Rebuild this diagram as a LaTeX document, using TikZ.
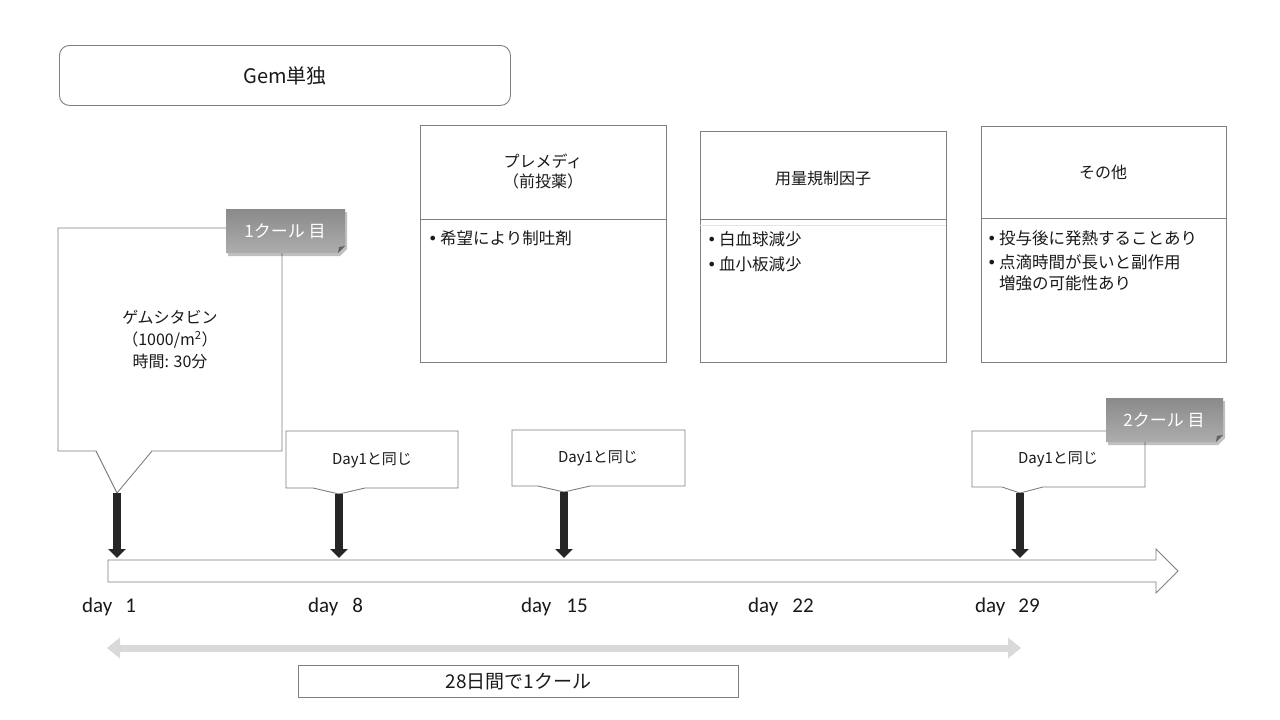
\documentclass[tikz,border=0pt]{standalone}
\usepackage{fontspec}
\setmainfont{Carlito}
\newfontfamily\jp{Noto Sans CJK JP}
\newfontfamily\dv{DejaVu Sans}
\usetikzlibrary{arrows.meta,shadows}
\definecolor{linec}{HTML}{7F7F7F}
\definecolor{txt}{HTML}{1A1A1A}
\definecolor{darkarr}{HTML}{262626}
\definecolor{lightarr}{HTML}{D9D9D9}
\definecolor{tagtop}{HTML}{ADADAD}
\definecolor{tagbot}{HTML}{8A8A8A}
\newcommand\bulx{\makebox[12pt][l]{{\dv\fontsize{16}{16}\selectfont\char"2022}}}
\begin{document}
\begin{tikzpicture}[x=1pt,y=-1pt,
  box/.style={draw=linec, line width=0.9pt, fill=white},
  jptext/.style={font=\jp\fontsize{16}{20}\selectfont, text=txt, inner sep=0pt},
  bultext/.style={font=\jp\fontsize{16.5}{21}\selectfont, text=txt, inner sep=0pt, anchor=west, align=left},
  daylab/.style={font=\fontsize{21}{24}\selectfont, text=txt, inner sep=0pt, anchor=west},
  darr/.style={draw=darkarr, line width=8pt, -{Triangle[width=17pt,length=9pt]}},
  tagshape/.style={top color=tagbot, bottom color=tagtop, draw=none,
     drop shadow={shadow xshift=2pt, shadow yshift=-3pt, fill=black, opacity=0.25}},
  tagtext/.style={font=\jp\fontsize{17}{20}\selectfont, text=white, inner sep=0pt}
]
\useasboundingbox (0,0) rectangle (1280,720);
\fill[white] (0,0) rectangle (1280,720);

% title
\node[box, rounded corners=10pt, minimum width=451pt, minimum height=60pt, anchor=north west,
      font=\jp\fontsize{20}{24}\selectfont, text=txt] (title) at (59,45) {Gem単独};

% top info boxes
\node[box, minimum width=246pt, minimum height=237pt, anchor=north west] (boxA) at (420,125) {};
\draw[draw=linec, line width=0.9pt] (420,219) -- (666,219);
\node[jptext, align=center] (hA) at (543,171) {プレメディ\\（前投薬）};
\node[bultext] (bA1) at (428,238) {\bulx 希望により制吐剤};

\node[box, minimum width=246pt, minimum height=231pt, anchor=north west] (boxB) at (700,131) {};
\draw[draw=linec, line width=0.9pt] (700,219) -- (946,219);
\draw[draw=black!10, line width=0.6pt] (700,225) -- (946,225);
\node[jptext] (hB) at (823,178) {用量規制因子};
\node[bultext] (bB1) at (707,239) {\bulx 白血球減少};
\node[bultext] (bB2) at (707,264) {\bulx 血小板減少};

\node[box, minimum width=245pt, minimum height=236pt, anchor=north west] (boxC) at (981,126) {};
\draw[draw=linec, line width=0.9pt] (981,218) -- (1226,218);
\node[jptext] (hC) at (1103,172) {その他};
\node[bultext] (bC1) at (987,238) {\bulx 投与後に発熱することあり};
\node[bultext, anchor=north west] (bC2) at (987,254) {\bulx 点滴時間が長いと副作用\\\hspace*{12pt}増強の可能性あり};

% main callout (day 1)
\draw[box] (58,228) -- (282,228) -- (282,451) -- (152,451) -- (117,493) coordinate (c1tip)
  -- (96,451) -- (58,451) -- cycle;
\node[jptext, align=center, font=\jp\fontsize{16}{22}\selectfont] (c1text) at (170,340)
  {ゲムシタビン\\（1000/m\textsuperscript{2}）\\時間: 30分};

% tag 1
\path[tagshape] (226,209) -- (345,209) -- (345,246) -- (338,253) -- (226,253) -- cycle;
\fill[tagbot!70!black] (338,253) -- (345,246) -- (339,247) -- cycle;
\node[tagtext] (tag1) at (285,231) {1クール 目};

% Day1と同じ callouts
\draw[box] (286,431) -- (458,431) -- (458,488) -- (365,488) -- (339,494) coordinate (c2tip)
  -- (313,488) -- (286,488) -- cycle;
\node[jptext, font=\jp\fontsize{15}{18}\selectfont] (c2text) at (372,460) {Day1と同じ};

\draw[box] (512,430) -- (685,430) -- (685,486) -- (590,486) -- (564,492) coordinate (c3tip)
  -- (538,486) -- (512,486) -- cycle;
\node[jptext, font=\jp\fontsize{15}{18}\selectfont] (c3text) at (598,458) {Day1と同じ};

\draw[box] (972,431) -- (1145,431) -- (1145,487) -- (1043,487) -- (1020,493) coordinate (c4tip)
  -- (1002,487) -- (972,487) -- cycle;
\node[jptext, font=\jp\fontsize{15}{18}\selectfont] (c4text) at (1058,459) {Day1と同じ};

% tag 2
\path[tagshape] (1106,398) -- (1223,398) -- (1223,435) -- (1216,442) -- (1106,442) -- cycle;
\fill[tagbot!70!black] (1216,442) -- (1223,435) -- (1217,436) -- cycle;
\node[tagtext] (tag2) at (1164,420) {2クール 目};

% timeline arrow
\draw[box] (108,560) -- (1156,560) -- (1156,549) -- (1178,571) coordinate (axtip) -- (1156,593)
  -- (1156,582) -- (108,582) -- cycle;
\coordinate (ax1) at (117,558);
\coordinate (ax2) at (339,558);
\coordinate (ax3) at (564,558);
\coordinate (ax4) at (1020,558);

% dose arrows
\draw[darr] (c1tip) -- (ax1);
\draw[darr] (c2tip) -- (ax2);
\draw[darr] (c3tip) -- (ax3);
\draw[darr] (c4tip) -- (ax4);

% day labels
\node[daylab] (d1) at (82,607) {day\hspace{13pt}1};
\node[daylab] (d8) at (308,607) {day\hspace{14pt}8};
\node[daylab] (d15) at (521,607) {day\hspace{15pt}15};
\node[daylab] (d22) at (748,607) {day\hspace{14pt}22};
\node[daylab] (d29) at (975,607) {day\hspace{13pt}29};

% cycle span arrow
\coordinate (spanL) at (107,648);
\coordinate (spanR) at (1021,648);
\draw[draw=lightarr, line width=7pt, {Triangle[width=20pt,length=13pt]}-{Triangle[width=20pt,length=13pt]}] (spanL) -- (spanR);

% cycle label
\node[box, minimum width=440pt, minimum height=32pt, anchor=north west,
      font=\jp\fontsize{19}{22}\selectfont, text=txt] (cyc) at (298,665) {28日間で1クール};
\end{tikzpicture}
\end{document}
